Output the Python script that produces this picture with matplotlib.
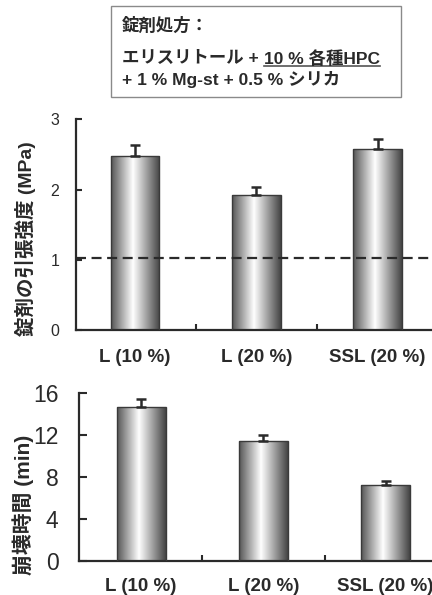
import matplotlib
matplotlib.use("Agg")
import matplotlib.pyplot as plt
import numpy as np
from matplotlib.colors import LinearSegmentedColormap
from matplotlib.patches import Rectangle
from matplotlib.lines import Line2D

plt.rcParams['font.family'] = ['Liberation Sans', 'Noto Sans CJK JP', 'DejaVu Sans']

# ---- data ----
categories = ["L (10 %)", "L (20 %)", "SSL (20 %)"]
tensile = [2.48, 1.92, 2.58]
tensile_err = [0.15, 0.11, 0.14]
tensile_ref = 1.02
disint = [14.7, 11.5, 7.27]
disint_err = [0.8, 0.55, 0.35]
top_ticks = [0, 1, 2, 3]
bot_ticks = [0, 4, 8, 12, 16]
top_ylabel = "錠剤の引張強度 (MPa)"
bot_ylabel = "崩壊時間 (min)"
box_title = "錠剤処方："
box_line2a = "エリスリトール + "
box_line2b = "10 % 各種HPC"
box_line3 = "+ 1 % Mg-st + 0.5 % シリカ"

W, H = 432, 595
fig = plt.figure(figsize=(W / 100, H / 100), dpi=100)

cmap = LinearSegmentedColormap.from_list(
    "cyl", [(0.0, "#555555"), (0.45, "#ffffff"), (1.0, "#444444")])
grad = np.linspace(0, 1, 256).reshape(1, -1)

DARK = "#2a2a2a"


def panel(rect, xlim, ylim, vals, errs, ticks, tick_fs, tick_pad, ytick_len):
    ax = fig.add_axes(rect)
    x = np.arange(len(vals))
    bars = ax.bar(x, vals, width=0.4, facecolor="none", edgecolor="#3a3a3a",
                  linewidth=1.0, zorder=3)
    for b in bars:
        x0, y0 = b.get_x(), b.get_y()
        w, h = b.get_width(), b.get_height()
        im = ax.imshow(grad, cmap=cmap, aspect="auto",
                       extent=(x0, x0 + w, y0, y0 + h), zorder=2,
                       interpolation="bilinear")
        im.set_clip_path(b)
    ax.errorbar(x, vals, yerr=[np.zeros(len(vals)), errs], fmt="none",
                ecolor=DARK, elinewidth=1.8, capsize=3.5, capthick=1.8, zorder=4)
    ax.set_xlim(*xlim)
    ax.set_ylim(*ylim)
    ax.set_yticks(ticks)
    ax.set_yticklabels([str(t) for t in ticks], fontsize=tick_fs, color=DARK)
    ax.tick_params(axis="y", direction="in", length=ytick_len, width=1.5,
                   color=DARK, pad=tick_pad)
    # category separators as x ticks
    ax.set_xticks([0.5, 1.5])
    ax.set_xticklabels(["", ""])
    ax.tick_params(axis="x", direction="in", length=4, width=1.5, color=DARK)
    for spine in ["top", "right"]:
        ax.spines[spine].set_visible(False)
    for spine in ["left", "bottom"]:
        ax.spines[spine].set_linewidth(1.6)
        ax.spines[spine].set_color(DARK)
    ax.patch.set_alpha(0)
    return ax, x


# top panel
ax1, x1 = panel([76 / W, 1 - 330 / H, 356 / W, (330 - 119.3) / H],
                (-0.487, 2.449), (0, 3), tensile, tensile_err, top_ticks,
                11.5, 12, 4.5)
ax1.axhline(tensile_ref, color=DARK, linestyle=(0, (4.5, 2.5)), linewidth=1.6, zorder=5)
for xi, c in zip(x1, categories):
    ax1.text(xi, -0.09, c, transform=ax1.get_xaxis_transform(), ha="center",
             va="top", fontsize=13.5, fontweight="bold", color=DARK)

# bottom panel
ax2, x2 = panel([79.3 / W, 1 - 561.3 / H, (432 - 79.3) / W, (561.3 - 393.3) / H],
                (-0.506, 2.379), (0, 16), disint, disint_err, bot_ticks,
                16.5, 15, 6)
for xi, c in zip(x2, categories):
    ax2.text(xi, -0.1, c, transform=ax2.get_xaxis_transform(), ha="center",
             va="top", fontsize=13.5, fontweight="bold", color=DARK)

# y labels
fig.text(25 / W, 1 - 239 / H, top_ylabel, rotation=90, ha="center", va="center",
         fontsize=14, fontweight="bold", color=DARK)
fig.text(23 / W, 1 - 505 / H, bot_ylabel, rotation=90, ha="center", va="center",
         fontsize=15, fontweight="bold", color=DARK)

# text box
fig.patches.append(Rectangle((111 / W, 1 - 97 / H), (401 - 111) / W, (97 - 6) / H,
                             transform=fig.transFigure, facecolor="white",
                             edgecolor="#8a8a8a", linewidth=1.0))
tx = 122 / W
BFS = 12.5
fig.text(tx, 1 - 25.5 / H, box_title, ha="left", va="center", fontsize=BFS,
         fontweight="bold", color=DARK)
t2a = fig.text(tx, 1 - 58.5 / H, box_line2a, ha="left", va="center", fontsize=BFS,
               fontweight="bold", color=DARK)
fig.canvas.draw()
r = fig.canvas.get_renderer()
bb = t2a.get_window_extent(r)
t2b = fig.text(bb.x1 / W, 1 - 58.5 / H, box_line2b, ha="left", va="center",
               fontsize=BFS, fontweight="bold", color=DARK)
fig.canvas.draw()
bb2 = t2b.get_window_extent(r)
fig.lines.append(Line2D([bb2.x0 / W, bb2.x1 / W], [1 - 66 / H, 1 - 66 / H],
                        transform=fig.transFigure, color="#555555", linewidth=1.2))
fig.text(tx, 1 - 79.5 / H, box_line3, ha="left", va="center", fontsize=BFS,
         fontweight="bold", color=DARK)

fig.savefig("out.png", dpi=100)
